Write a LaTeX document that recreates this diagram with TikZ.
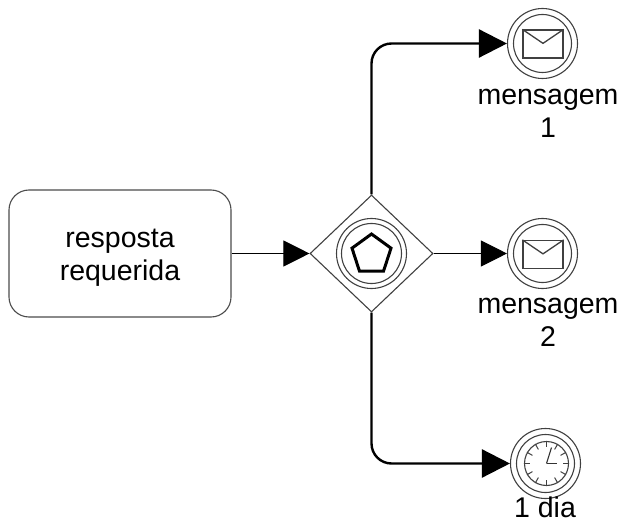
\documentclass[tikz,border=0pt]{standalone}
\usepackage{fontspec}
\setmainfont{Liberation Sans}
\usetikzlibrary{arrows.meta,shapes.geometric,positioning,calc}
\tikzset{
  lbl/.style={align=center,font=\fontsize{28.5}{33}\selectfont,inner sep=0pt},
  ringout/.style={circle,draw=black!75,line width=1.1pt,minimum size=70pt,inner sep=0pt},
  ringin/.style={circle,draw=black!75,line width=1.1pt,minimum size=58pt,inner sep=0pt},
  flowthin/.style={line width=1pt,-{Triangle[length=26pt,width=26pt,inset=0pt]}},
  flowthick/.style={line width=2.4pt,rounded corners=20pt,-{Triangle[length=28pt,width=28pt,inset=0pt]}},
  icon/.style={draw=black!75,line width=1.3pt},
}
\begin{document}
\begin{tikzpicture}[x=1pt,y=-1pt]
\useasboundingbox (0,0) rectangle (620,526);
\node[draw=black!70,line width=1.1pt,rounded corners=20pt,minimum width=222pt,minimum height=127pt,inner sep=0pt,
  align=center,font=\fontsize{28.5}{33.5}\selectfont] (task) at (120,253.5) {\rule{0pt}{27pt}resposta\\requerida};
\node[diamond,draw=black!75,line width=1.1pt,minimum width=123pt,minimum height=117pt,inner sep=0pt] (gw) at (371.5,253.5) {};
\node[ringout] (gwo) at (371.5,253.5) {};
\node[ringin,minimum size=60pt] (gwi) at (371.5,253.5) {};
\node[regular polygon,regular polygon sides=5,draw=black,line width=3pt,minimum size=41pt,inner sep=0pt] (pent) at (371.5,254.5) {};

\node[ringout] (m1) at (542.5,43.5) {};
\node[ringin] (m1i) at (542.5,43.5) {};
\node[icon,minimum width=40pt,minimum height=28pt,inner sep=0pt] (env1) at (543,44) {};
\draw[icon] (env1.north west) -- ([yshift=-14pt]env1.north) -- (env1.north east);

\node[ringout] (m2) at (542.5,253.5) {};
\node[ringin] (m2i) at (542.5,253.5) {};
\node[icon,minimum width=40pt,minimum height=28pt,inner sep=0pt] (env2) at (543,254.5) {};
\draw[icon] (env2.north west) -- ([yshift=-14pt]env2.north) -- (env2.north east);

\node[ringout] (t) at (545.5,463.5) {};
\node[ringin] (ti) at (545.5,463.5) {};
\node[circle,draw=black!75,line width=1.1pt,minimum size=44pt,inner sep=0pt] (clock) at (546.5,463.5) {};
\foreach \a in {0,30,...,330}
  \draw[black!75,line width=1pt] (clock.\a) -- ($(clock.center)!0.72!(clock.\a)$);
\draw[black!80,line width=1.1pt] (clock.center) -- ++(10,0);
\draw[black!80,line width=1.1pt] (clock.center) -- ++(5,-16);

\draw[flowthin] (task) -- (gw);
\draw[flowthin] (gw) -- (m2);
\draw[flowthick] (gw.north) |- (m1.west);
\draw[flowthick] (gw.south) |- (t.west);

\node[lbl] (l1) at (548,113.5) {mensagem\\1};
\node[lbl] (l2) at (548,322.5) {mensagem\\2};
\node[lbl] (l3) at (545,507) {1 dia};
\end{tikzpicture}
\end{document}
